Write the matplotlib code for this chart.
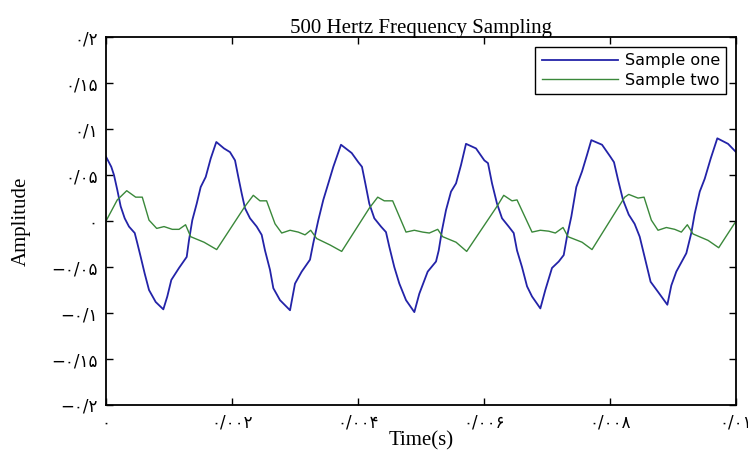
import matplotlib
matplotlib.use('Agg')
import matplotlib.pyplot as plt

# time in ms, amplitude
t_one = [0.0, 0.084, 0.127, 0.179, 0.233, 0.297, 0.365, 0.456, 0.497, 0.551, 0.614, 0.683, 0.789, 0.910,
         0.973, 1.037, 1.159, 1.281, 1.317, 1.370, 1.440, 1.503, 1.583, 1.662, 1.751, 1.873, 1.968,
         2.048, 2.100, 2.154, 2.206, 2.286, 2.392, 2.471, 2.524, 2.603, 2.656, 2.762, 2.921,
         3.000, 3.106, 3.238, 3.290, 3.370, 3.449, 3.529, 3.608, 3.730, 3.900, 4.005,
         4.063, 4.116, 4.179, 4.259, 4.365, 4.444, 4.497, 4.576, 4.656, 4.762, 4.894,
         4.973, 5.106, 5.238, 5.281, 5.333, 5.397, 5.476, 5.556, 5.635, 5.714, 5.873, 6.005,
         6.063, 6.127, 6.206, 6.286, 6.392, 6.471, 6.524, 6.603, 6.683, 6.762, 6.894,
         6.973, 7.079, 7.186, 7.265, 7.317, 7.386, 7.465, 7.556, 7.635, 7.703, 7.873, 8.005,
         8.063, 8.127, 8.206, 8.297, 8.390, 8.471, 8.549, 8.644, 8.762, 8.910,
         8.973, 9.052, 9.211, 9.290, 9.344, 9.424, 9.503, 9.598, 9.703, 9.873, 10.0]
a_one = [0.070, 0.059, 0.050, 0.034, 0.016, 0.003, -0.006, -0.013, -0.024, -0.039, -0.057, -0.075, -0.088, -0.096,
         -0.082, -0.064, -0.051, -0.039, -0.021, 0.001, 0.019, 0.037, 0.048, 0.068, 0.086, 0.079, 0.075,
         0.066, 0.048, 0.030, 0.014, 0.003, -0.006, -0.015, -0.032, -0.053, -0.073, -0.086, -0.097,
         -0.068, -0.055, -0.042, -0.024, 0.001, 0.023, 0.041, 0.059, 0.083, 0.074, 0.064,
         0.059, 0.041, 0.019, 0.003, -0.006, -0.012, -0.028, -0.050, -0.068, -0.086, -0.099,
         -0.079, -0.055, -0.044, -0.032, -0.010, 0.012, 0.032, 0.041, 0.061, 0.084, 0.079, 0.066,
         0.063, 0.041, 0.019, 0.003, -0.006, -0.013, -0.032, -0.050, -0.071, -0.082, -0.095,
         -0.075, -0.051, -0.044, -0.037, -0.017, 0.005, 0.037, 0.054, 0.072, 0.088, 0.083, 0.070,
         0.064, 0.045, 0.023, 0.007, -0.003, -0.017, -0.039, -0.066, -0.077, -0.091,
         -0.070, -0.055, -0.035, -0.013, 0.008, 0.032, 0.046, 0.068, 0.090, 0.084, 0.075]

t_two = [0.0, 0.179, 0.329, 0.471, 0.576, 0.683, 0.805, 0.921, 1.052, 1.159, 1.263, 1.344, 1.556, 1.757,
         2.206, 2.338, 2.444, 2.549, 2.683, 2.789, 2.921, 3.052, 3.159, 3.249, 3.344, 3.556, 3.741,
         4.179, 4.313, 4.417, 4.550, 4.762, 4.894, 5.027, 5.132, 5.265, 5.344, 5.556, 5.725,
         6.206, 6.313, 6.444, 6.524, 6.762, 6.894, 7.027, 7.132, 7.254, 7.333, 7.556, 7.714,
         8.233, 8.297, 8.444, 8.540, 8.656, 8.762, 8.894, 9.027, 9.132, 9.227, 9.317, 9.556, 9.725, 10.0]
a_two = [0.0, 0.023, 0.033, 0.026, 0.026, 0.001, -0.008, -0.006, -0.009, -0.009, -0.004, -0.017, -0.023, -0.031,
         0.016, 0.028, 0.022, 0.022, -0.003, -0.013, -0.010, -0.012, -0.015, -0.010, -0.019, -0.026, -0.033,
         0.014, 0.026, 0.022, 0.022, -0.012, -0.010, -0.012, -0.013, -0.009, -0.017, -0.023, -0.033,
         0.016, 0.028, 0.022, 0.023, -0.012, -0.010, -0.011, -0.013, -0.007, -0.017, -0.023, -0.031,
         0.026, 0.029, 0.025, 0.026, 0.001, -0.010, -0.007, -0.009, -0.012, -0.004, -0.014, -0.021, -0.029, 0.0]

x_ticks = [0, 0.002, 0.004, 0.006, 0.008, 0.01]
x_labels = ['۰', '۰/۰۰۲', '۰/۰۰۴', '۰/۰۰۶', '۰/۰۰۸', '۰/۰۱']
y_ticks = [0.2, 0.15, 0.1, 0.05, 0, -0.05, -0.1, -0.15, -0.2]
y_labels = ['۰/۲', '۰/۱۵', '۰/۱', '۰/۰۵', '۰', '−۰/۰۵', '−۰/۱', '−۰/۱۵', '−۰/۲']

serif = ['Liberation Serif', 'DejaVu Sans']
tickfont = ['DejaVu Sans']

fig = plt.figure(figsize=(7.48, 4.53), dpi=100)
ax = fig.add_axes([0.1417, 0.106, 0.8423, 0.812])

ax.plot([t / 1000 for t in t_one], a_one, color='#2323a8', lw=1.3, label='Sample one')
ax.plot([t / 1000 for t in t_two], a_two, color='#3a883a', lw=1.0, label='Sample two')

ax.set_xlim(0, 0.01)
ax.set_ylim(-0.2, 0.2)
ax.set_xticks(x_ticks)
ax.set_xticklabels(x_labels, family=tickfont, fontsize=12)
ax.set_yticks(y_ticks)
ax.set_yticklabels(y_labels, family=tickfont, fontsize=12)
ax.tick_params(direction='in', length=5, width=1, top=True, right=True, pad=6)
for s in ax.spines.values():
    s.set_linewidth(1.3)

ax.set_title('500 Hertz Frequency Sampling', family=serif, fontsize=15, pad=3)
ax.set_xlabel('Time(s)', family=serif, fontsize=15, labelpad=0)
ax.set_ylabel('Amplitude', family=serif, fontsize=15, labelpad=15)

leg = ax.legend(loc='upper right', fancybox=False, framealpha=1, edgecolor='black',
                handlelength=4.8, handletextpad=0.4, borderaxespad=0.6, labelspacing=0.3,
                prop={'family': 'DejaVu Sans', 'size': 11.5})
leg.get_frame().set_linewidth(1.0)

fig.savefig('out.png', dpi=100)
